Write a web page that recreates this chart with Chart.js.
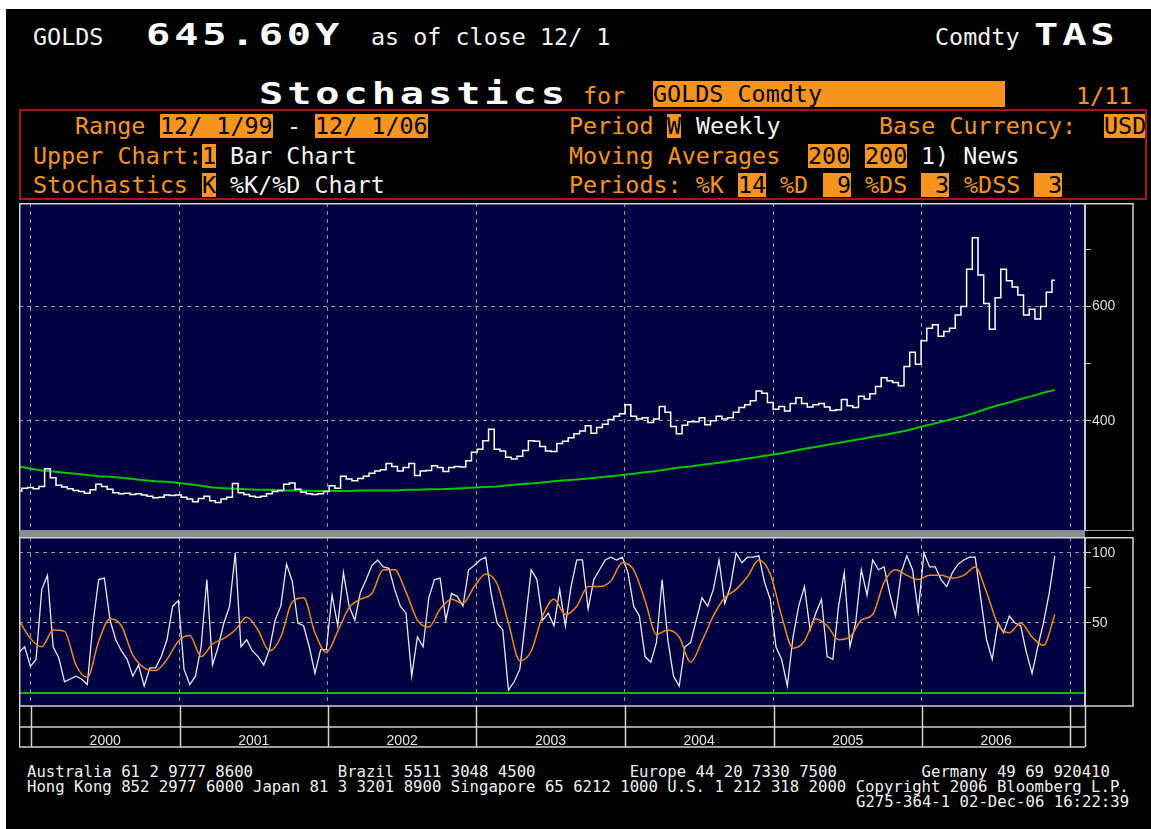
<!DOCTYPE html>
<html>
<head>
<meta charset="utf-8">
<script src="https://cdn.jsdelivr.net/npm/chart.js@4.4.1/dist/chart.umd.min.js"></script>
<style>
html, body { margin: 0; padding: 0; background: #fff; width: 1151px; height: 829px; overflow: hidden; }
#screen { position: absolute; left: 6px; top: 9px; width: 1145px; height: 820px; background: #000; }
.m { position: absolute; white-space: pre; font-family: "DejaVu Sans Mono", monospace; font-size: 23.4px; line-height: 24px; color: #f4f4f4; }
.o { color: #f7941d; }
.b { background: #f7941d; color: #000; }
.big { position: absolute; white-space: pre; font-family: "DejaVu Sans Mono", monospace; font-weight: bold; font-size: 31px; line-height: 31px;
       letter-spacing: 3px; transform: scaleX(1.3); transform-origin: 0 0; color: #fff; }
.f { position: absolute; white-space: pre; font-family: "DejaVu Sans Mono", monospace; font-size: 15.65px; line-height: 15px; color: #f0f0f0; }
#redbox { position: absolute; left: 19px; top: 109px; width: 1124px; height: 87px; border: 2px solid #a8141a; }
canvas { position: absolute; }
</style>
</head>
<body>
<div id="screen"></div>

<!-- top line -->
<div class="m" style="left:33px;top:25px">GOLDS</div>
<div class="big" style="left:146px;top:19px">645.60Y</div>
<div class="m" style="left:371px;top:25px">as of close 12/ 1</div>
<div class="m" style="left:935px;top:25px">Comdty</div>
<div class="big" style="left:1034px;top:19px">TAS</div>

<!-- title line -->
<div class="big" style="left:259px;top:78px">Stochastics</div>
<div class="m o" style="left:583px;top:84px">for</div>
<div class="m b" style="left:653px;top:81px;line-height:26px">GOLDS Comdty             </div>
<div class="m o" style="left:1076px;top:84px">1/11</div>

<div id="redbox"></div>
<!-- row 1 -->
<div class="m o" style="left:75px;top:114px">Range</div>
<div class="m b" style="left:160px;top:114px">12/ 1/99</div>
<div class="m" style="left:287px;top:114px">-</div>
<div class="m b" style="left:315px;top:114px">12/ 1/06</div>
<div class="m o" style="left:569px;top:114px">Period</div>
<div class="m b" style="left:667px;top:114px">W</div>
<div class="m" style="left:696px;top:114px">Weekly</div>
<div class="m o" style="left:879px;top:114px">Base Currency:</div>
<div class="m b" style="left:1104px;top:114px;width:41px;overflow:hidden">USD</div>
<!-- row 2 -->
<div class="m o" style="left:33px;top:144px">Upper Chart:</div>
<div class="m b" style="left:202px;top:144px">1</div>
<div class="m" style="left:230px;top:144px">Bar Chart</div>
<div class="m o" style="left:569px;top:144px">Moving Averages</div>
<div class="m b" style="left:808px;top:144px">200</div>
<div class="m b" style="left:865px;top:144px">200</div>
<div class="m" style="left:921px;top:144px">1) News</div>
<!-- row 3 -->
<div class="m o" style="left:33px;top:173px">Stochastics</div>
<div class="m b" style="left:202px;top:173px">K</div>
<div class="m" style="left:230px;top:173px">%K/%D Chart</div>
<div class="m o" style="left:569px;top:173px">Periods: %K</div>
<div class="m b" style="left:738px;top:173px">14</div>
<div class="m o" style="left:780px;top:173px">%D</div>
<div class="m b" style="left:823px;top:173px"> 9</div>
<div class="m o" style="left:865px;top:173px">%DS</div>
<div class="m b" style="left:921px;top:173px"> 3</div>
<div class="m o" style="left:964px;top:173px">%DSS</div>
<div class="m b" style="left:1034px;top:173px"> 3</div>

<canvas id="priceChart" width="1115" height="328" style="left:19px;top:203px;width:1115px;height:328px"></canvas>
<canvas id="stochChart" width="1115" height="218" style="left:19px;top:530px;width:1115px;height:218px"></canvas>

<div class="f" style="left:27px;top:764px">Australia 61 2 9777 8600         Brazil 5511 3048 4500          Europe 44 20 7330 7500         Germany 49 69 920410</div>
<div class="f" style="left:27px;top:779px">Hong Kong 852 2977 6000 Japan 81 3 3201 8900 Singapore 65 6212 1000 U.S. 1 212 318 2000 Copyright 2006 Bloomberg L.P.</div>
<div class="f" style="left:856px;top:794px">G275-364-1 02-Dec-06 16:22:39</div>

<script>
// weekly bars, first bar on Fri 3 Dec 1999
const START = Date.UTC(1999, 11, 3);
const WEEK = 7 * 864e5;

const yearLabels = ['2000', '2001', '2002', '2003', '2004', '2005', '2006'];

// gold close, one value every 2 weeks
const closeStep = 2;
const goldClose = [
  277, 282, 283, 281, 285, 316, 300, 287, 284, 281,
  278, 276, 273, 279, 289, 285, 280, 274, 272, 273,
  271, 272, 270, 268, 265, 266, 270, 269, 270, 266,
  263, 258, 264, 268, 260, 257, 263, 266, 290, 274,
  271, 268, 266, 268, 272, 276, 278, 289, 291, 280,
  275, 272, 271, 272, 276, 286, 282, 303, 298, 295,
  299, 303, 308, 312, 314, 325, 320, 312, 318, 325,
  304, 312, 313, 321, 318, 311, 318, 320, 319, 330,
  345, 350, 365, 385, 350, 347, 336, 333, 338, 348,
  365, 364, 355, 347, 346, 360, 364, 370, 377, 382,
  391, 378, 388, 394, 402, 408, 412, 428, 408, 403,
  405, 397, 403, 425, 415, 390, 377, 392, 398, 398,
  405, 393, 400, 408, 403, 405, 415, 423, 428, 435,
  452, 448, 432, 420, 425, 417, 430, 440, 430, 424,
  428, 430, 424, 418, 419, 437, 426, 423, 443, 438,
  447, 460, 475, 470, 467, 461, 495, 520, 499, 540,
  562, 568, 548, 556, 562, 585, 600, 665, 720, 655,
  605, 560, 615, 665, 645, 634, 620, 585, 595, 578,
  600, 625, 646
];

// 200 week moving average, one value every 4 weeks
const maStep = 4;
const ma200 = [
  320, 316, 313, 311, 309, 307, 305, 303, 302, 300,
  298, 296, 294, 293, 291, 289, 286, 283, 282, 281,
  280, 279, 279, 278, 278, 278, 277, 277, 277, 277,
  278, 278, 278, 278, 279, 279, 280, 280, 281, 282,
  283, 284, 285, 287, 289, 290, 292, 294, 296, 297,
  299, 301, 303, 305, 307, 310, 312, 315, 318, 320,
  323, 325, 328, 331, 334, 337, 340, 343, 347, 351,
  354, 358, 361, 365, 368, 372, 375, 379, 383, 388,
  393, 398, 403, 408, 414, 421, 427, 432, 438, 443,
  449, 454
];

// %K, one value every 2 weeks
const kStep = 2;
const pctK = [
  29, 33, 19, 24, 74, 84, 33, 25, 8, 10,
  12, 10, 6, 50, 81, 82, 52, 38, 30, 24,
  12, 20, 5, 18, 18, 26, 38, 62, 66, 17,
  6, 12, 33, 81, 20, 33, 50, 62, 100, 33,
  38, 30, 26, 20, 31, 52, 62, 92, 80, 50,
  48, 33, 14, 31, 31, 70, 48, 86, 62, 52,
  72, 81, 91, 95, 90, 89, 74, 62, 57, 12,
  40, 33, 68, 81, 82, 52, 71, 69, 62, 88,
  91, 95, 97, 70, 50, 45, 2, 8, 17, 52,
  88, 81, 52, 57, 48, 74, 48, 76, 95, 95,
  60, 81, 88, 95, 97, 95, 97, 86, 62, 55,
  26, 22, 36, 81, 38, 12, 5, 33, 36, 52,
  68, 62, 74, 95, 64, 76, 100, 93, 97, 97,
  98, 79, 67, 33, 24, 5, 40, 62, 76, 45,
  57, 67, 26, 24, 62, 86, 33, 50, 88, 70,
  95, 88, 90, 71, 55, 86, 98, 88, 58, 100,
  90, 90, 81, 76, 86, 92, 95, 97, 97, 67,
  38, 24, 50, 43, 55, 50, 48, 29, 14, 33,
  50, 71, 98
];

// %D, one value every 4 weeks
const dStep = 4;
const pctD = [
  52, 39, 33, 45, 44, 20, 11, 37, 53, 48,
  27, 18, 16, 24, 37, 41, 26, 35, 39, 45,
  54, 45, 30, 40, 65, 68, 43, 29, 44, 61,
  67, 71, 88, 88, 72, 52, 47, 60, 67, 64,
  76, 85, 78, 50, 23, 30, 55, 67, 56, 62,
  76, 76, 80, 93, 88, 66, 42, 45, 40, 22,
  37, 55, 68, 74, 83, 95, 85, 55, 32, 37,
  53, 48, 38, 40, 52, 56, 79, 88, 84, 81,
  84, 84, 82, 84, 90, 72, 49, 43, 50, 40,
  34, 56
];

const priceTicks = [400, 500, 600, 700];
const priceLabels = [400, 600];
const stochTicks = [50, 75, 100];
const stochLabels = [50, 100];
const floorLevel = 0;

const yearEdges = yearLabels.concat(['2007']).map(y => (Date.UTC(+y, 0, 1) - START) / WEEK);
const xMax = 374.6;

const NAVY = '#010142';
const GRID = '#9c9c9c';
const FRAME = '#d2d2d2';

const toPts = (arr, step) => arr.map((v, i) => ({ x: i * step, y: v }));

const framePlugin = {
  id: 'frame',
  beforeDraw(chart, args, opts) {
    const { ctx, chartArea: a } = chart;
    ctx.save();
    ctx.fillStyle = NAVY;
    ctx.fillRect(a.left, a.top, a.width, a.height);
    if (opts.sepBar) {
      ctx.fillStyle = '#8c8c8c';
      ctx.fillRect(a.left, 0, a.width, a.top);
    }
    ctx.restore();
  },
  afterDraw(chart, args, opts) {
    const { ctx, chartArea: a, width } = chart;
    ctx.save();
    ctx.strokeStyle = FRAME;
    ctx.lineWidth = 1.5;
    ctx.strokeRect(a.left + 0.75, a.top + 0.75, a.width - 0.75, a.height - 0.75);
    ctx.strokeRect(a.right, a.top + 0.75, width - a.right - 1, a.height - 0.75);
    if (opts.years) {
      const xs = chart.scales.x;
      const top = a.bottom, mid = a.bottom + 21, bot = a.bottom + 41;
      const line = (x1, y1, x2, y2) => { ctx.beginPath(); ctx.moveTo(x1, y1); ctx.lineTo(x2, y2); ctx.stroke(); };
      line(a.left, mid, a.right, mid);
      line(a.left, bot, a.right, bot);
      [a.left, ...yearEdges.map(v => xs.getPixelForValue(v)), a.right]
        .forEach(x => line(Math.round(x) + 0.5, top, Math.round(x) + 0.5, bot));
      ctx.fillStyle = '#e6e6e6';
      ctx.font = '14px "Liberation Sans", Arial, sans-serif';
      ctx.textAlign = 'center';
      ctx.textBaseline = 'middle';
      yearLabels.forEach((lab, i) => {
        const cx = (xs.getPixelForValue(yearEdges[i]) + xs.getPixelForValue(yearEdges[i + 1])) / 2;
        ctx.fillText(lab, cx, a.bottom + 35);
      });
    }
    ctx.restore();
  }
};

function xAxis(h) {
  return {
    type: 'linear', min: 0, max: xMax,
    afterBuildTicks: s => { s.ticks = yearEdges.map(v => ({ value: v })); },
    afterFit: s => { s.height = h; s.paddingLeft = 0; s.paddingRight = 0; },
    grid: { color: GRID, drawTicks: false },
    border: { display: false, dash: [4, 4] },
    ticks: { display: false }
  };
}

function yAxis(min, max, ticks, labels) {
  return {
    position: 'right', min: min, max: max,
    afterBuildTicks: s => { s.ticks = ticks.map(v => ({ value: v })); },
    afterFit: s => { s.width = 49; s.paddingTop = 0; s.paddingBottom = 0; },
    grid: {
      color: c => labels.includes(c.tick.value) ? GRID : 'rgba(0,0,0,0)',
      tickColor: '#c8c8c8', tickLength: 6
    },
    border: { display: false, dash: [4, 4] },
    ticks: {
      color: '#dedede', padding: 1,
      font: { family: '"Liberation Sans", Arial, sans-serif', size: 14 },
      callback: v => labels.includes(v) ? String(v) : ''
    }
  };
}

const common = {
  animation: false, responsive: false, maintainAspectRatio: false, devicePixelRatio: 1,
  elements: { point: { radius: 0 } },
  events: []
};

new Chart(document.getElementById('priceChart'), {
  type: 'line',
  data: {
    datasets: [
      { data: toPts(goldClose, closeStep), borderColor: '#ffffff', borderWidth: 1.5, stepped: 'middle', order: 0 },
      { data: toPts(ma200, maStep), borderColor: '#00c800', borderWidth: 2, order: 1 }
    ]
  },
  options: Object.assign({}, common, {
    layout: { padding: 0 },
    plugins: { legend: { display: false }, tooltip: { enabled: false }, frame: { sepBar: false, years: false } },
    scales: { x: xAxis(0), y: yAxis(207, 781, priceTicks, priceLabels) }
  }),
  plugins: [framePlugin]
});

new Chart(document.getElementById('stochChart'), {
  type: 'line',
  data: {
    datasets: [
      { data: toPts(pctD, dStep), borderColor: '#f08a1c', borderWidth: 1.5, cubicInterpolationMode: 'monotone', order: 0 },
      { data: toPts(pctK, kStep), borderColor: '#e8e8f6', borderWidth: 1.3, order: 1 },
      { data: [{ x: 0, y: floorLevel }, { x: xMax, y: floorLevel }], borderColor: '#00c000', borderWidth: 2, order: 2 }
    ]
  },
  options: Object.assign({}, common, {
    layout: { padding: { top: 7 } },
    plugins: { legend: { display: false }, tooltip: { enabled: false }, frame: { sepBar: true, years: true } },
    scales: { x: xAxis(42), y: yAxis(-9.3, 111.4, stochTicks, stochLabels) }
  }),
  plugins: [framePlugin]
});
</script>
</body>
</html>
